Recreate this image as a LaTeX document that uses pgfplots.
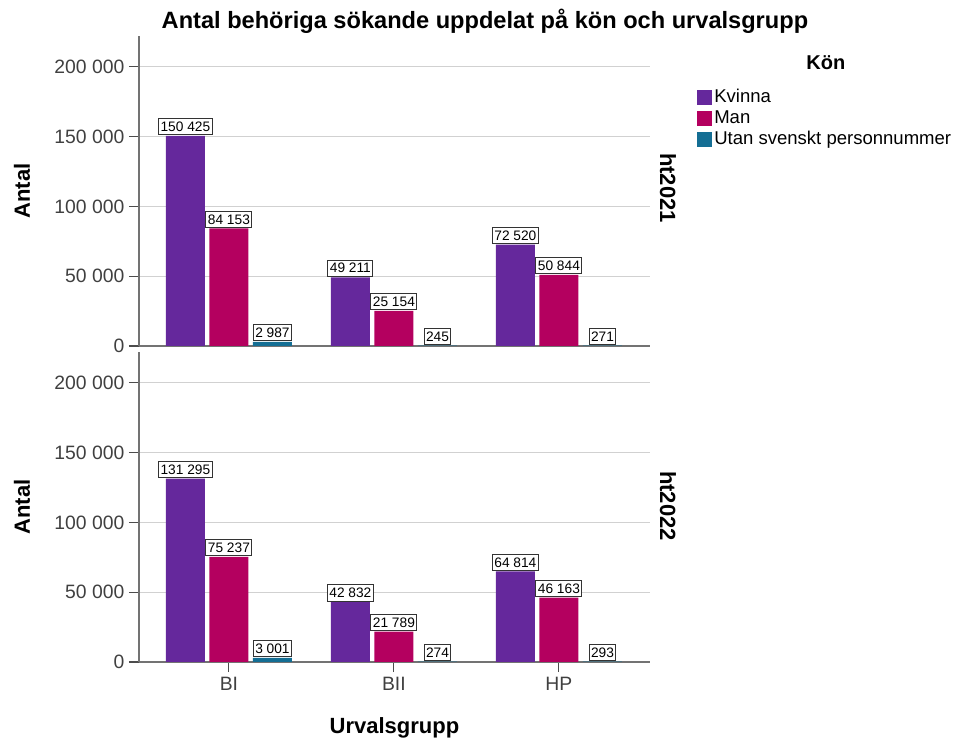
\documentclass[border=0pt]{standalone}
\usepackage{fontspec}
\setmainfont{Liberation Sans}
\usepackage{pgfplots}
\pgfplotsset{compat=1.18}
\definecolor{kv}{RGB}{101,40,156}
\definecolor{man}{RGB}{180,0,95}
\definecolor{utan}{RGB}{20,110,148}
\pgfplotsset{
 panel/.style={
  width=383.25pt, height=232.5pt, scale only axis, clip=false,
  ybar=3.4pt, bar width=29.25pt,
  xmin=-0.545, xmax=2.552, ymin=0, ymax=222000,
  axis y line=left, axis x line=bottom, axis line style={-, black!55, line width=0.8pt},
  ytick={0,50000,100000,150000,200000}, scaled y ticks=false,
  ymajorgrids, grid style={black!18, line width=0.9pt},
  tick align=outside, major tick length=7.5pt, tick style={black!70, line width=0.8pt},
  yticklabel style={font=\fontsize{14.5}{16}\selectfont, text=black!75},
  xticklabel style={font=\fontsize{14.5}{16}\selectfont, text=black!75},
  /pgf/number format/.cd, fixed, precision=0, 1000 sep={\ }, assume math mode=true,
  /pgfplots/.cd,
  nodes near coords,
  every node near coord/.append style={font=\fontsize{10.3}{12}\selectfont, fill=white, draw=black!80, line width=0.7pt, inner xsep=1.5pt, inner ysep=2.4pt, anchor=south, yshift=0.5pt, text=black},
  legend image code/.code={\fill[##1] (0pt,-5.6pt) rectangle (11.25pt,5.6pt);},
 }
}
\begin{document}
\begin{tikzpicture}
\path[use as bounding box] (0,0) rectangle (715.5pt,554.25pt);
\begin{axis}[panel, at={(104.25pt,294.75pt)}, anchor=south west, xtick=\empty,
  legend style={at={(rel axis cs:1.092,0.835)}, anchor=north west, draw=none, fill=none, inner sep=0pt, row sep=1.4pt, font=\fontsize{13.9}{15}\selectfont, legend cell align=left, nodes={inner sep=1.5pt}}]
\addplot[fill=kv, draw=none] coordinates {(0,150425) (1,49211) (2,72520)};
\addplot[fill=man, draw=none] coordinates {(0,84153) (1,25154) (2,50844)};
\addplot[fill=utan, draw=none] coordinates {(0,2987) (1,245) (2,271)};
\legend{Kvinna, Man, Utan svenskt personnummer}
\node[font=\bfseries\fontsize{17.7}{20}\selectfont] at (rel axis cs:0.677,1.048) {Antal behöriga sökande uppdelat på kön och urvalsgrupp};
\node[font=\bfseries\fontsize{16.5}{18}\selectfont, rotate=90] at (rel axis cs:-0.229,0.5) {Antal};
\node[font=\bfseries\fontsize{16.5}{18}\selectfont, rotate=-90] at (rel axis cs:1.035,0.51) {ht2021};
\node[font=\bfseries\fontsize{15}{17}\selectfont] at (rel axis cs:1.344,0.913) {Kön};
\end{axis}
\begin{axis}[panel, at={(104.25pt,57.75pt)}, anchor=south west, xtick={0,1,2}, xticklabels={BI,BII,HP}]
\addplot[fill=kv, draw=none] coordinates {(0,131295) (1,42832) (2,64814)};
\addplot[fill=man, draw=none] coordinates {(0,75237) (1,21789) (2,46163)};
\addplot[fill=utan, draw=none] coordinates {(0,3001) (1,274) (2,293)};
\node[font=\bfseries\fontsize{16.5}{18}\selectfont, rotate=90] at (rel axis cs:-0.229,0.5) {Antal};
\node[font=\bfseries\fontsize{16.5}{18}\selectfont, rotate=-90] at (rel axis cs:1.035,0.503) {ht2022};
\node[font=\bfseries\fontsize{16.5}{18}\selectfont] at (rel axis cs:0.5,-0.213) {Urvalsgrupp};
\end{axis}
\end{tikzpicture}
\end{document}
